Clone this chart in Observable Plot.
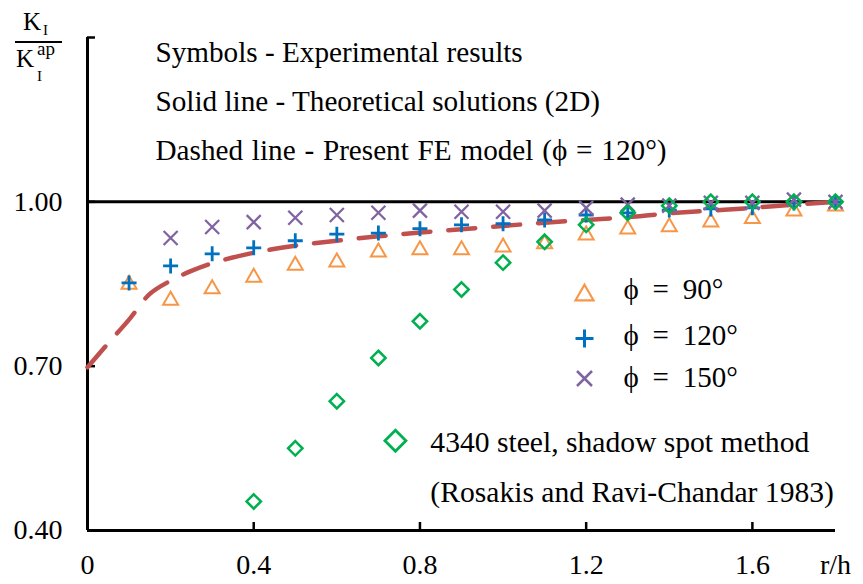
<!DOCTYPE html>
<html><head><meta charset="utf-8">
<script src="https://cdn.jsdelivr.net/npm/d3@7"></script>
<script src="https://cdn.jsdelivr.net/npm/@observablehq/plot@0.6"></script>
<style>body{margin:0;background:#fff} #chart{width:863px;height:584px}</style>
</head><body><div id="chart"></div>
<script>
// ---- data ----
const rh = [0.1,0.2,0.3,0.4,0.5,0.6,0.7,0.8,0.9,1.0,1.1,1.2,1.3,1.4,1.5,1.6,1.7,1.8];
const phi90 = [0.853,0.824,0.845,0.866,0.888,0.894,0.912,0.916,0.916,0.921,0.927,0.943,0.954,0.958,0.967,0.973,0.987,0.996];
const phi120 = [0.852,0.883,0.905,0.916,0.929,0.941,0.943,0.951,0.958,0.960,0.967,0.976,0.980,0.985,0.987,0.989,0.998,1.000];
const rh150 = [0.2,0.3,0.4,0.5,0.6,0.7,0.8,0.9,1.0,1.1,1.2,1.3,1.4,1.5,1.6,1.7,1.8];
const phi150 = [0.934,0.954,0.963,0.971,0.976,0.980,0.984,0.982,0.982,0.984,0.989,0.995,0.993,0.998,0.998,1.004,1.000];
const rhSteel = [0.4,0.5,0.6,0.7,0.8,0.9,1.0,1.1,1.2,1.3,1.4,1.5,1.6,1.7,1.8];
const steel = [0.453,0.550,0.636,0.715,0.782,0.840,0.889,0.927,0.958,0.980,0.993,1.000,1.000,1.000,1.000];
const rhFE = [0,0.05,0.1,0.15,0.2,0.25,0.3,0.4,0.5,0.6,0.7,0.8,0.9,1.0,1.1,1.2,1.3,1.4,1.5,1.6,1.7,1.8];
const feModel = [0.698,0.742,0.785,0.832,0.856,0.874,0.888,0.907,0.920,0.929,0.937,0.944,0.950,0.956,0.962,0.967,0.972,0.979,0.984,0.989,0.995,1.000];
const theory = [1.0];
const xTicks = [0,0.4,0.8,1.2,1.6,1.8];
const yTicks = [0.4,0.7,1.0,1.3];
const yLabels = [0.4,0.7,1.0];
const notes = ["Symbols - Experimental results","Solid line - Theoretical solutions (2D)","Dashed line - Present FE model (\u03D5 = 120\u00B0)"];
const legendLabels = ["\u03D5 = 90\u00B0","\u03D5 = 120\u00B0","\u03D5 = 150\u00B0"];
const steelLabel = ["4340 steel, shadow spot method","(Rosakis and Ravi-Chandar 1983)"];

// ---- layout ----
const W=863,H=584,mL=87,mR=28,mT=37,mB=54;
const frameW=W-mL-mR, frameH=H-mT-mB;
const serif="'Liberation Serif','Times New Roman',serif";
const C90="#F79646", C120="#0070C0", C150="#8064A2", CST="#00B050", CFE="#C0504D";

// custom marker shapes (r = half width)
const triSym={draw(c,s){const r=Math.sqrt(s/Math.PI),h=r*Math.sqrt(3);c.moveTo(0,-h/2);c.lineTo(r,h/2);c.lineTo(-r,h/2);c.closePath();}};
const plusSym={draw(c,s){const r=Math.sqrt(s/Math.PI);c.moveTo(-r,0);c.lineTo(r,0);c.moveTo(0,-r);c.lineTo(0,r);}};
const timesSym={draw(c,s){const r=Math.sqrt(s/Math.PI);c.moveTo(-r,-r);c.lineTo(r,r);c.moveTo(-r,r);c.lineTo(r,-r);}};
const diaSym={draw(c,s){const r=Math.sqrt(s/Math.PI);c.moveTo(0,-r);c.lineTo(r,0);c.lineTo(0,r);c.lineTo(-r,0);c.closePath();}};

const chart = Plot.plot({
  width:W,height:H,marginLeft:mL,marginRight:mR,marginTop:mT,marginBottom:mB,
  style:{fontFamily:serif,fontSize:"28px",background:"white",color:"black"},
  x:{domain:[0,1.8]},
  y:{domain:[0.4,1.3]},
  marks:[
    Plot.axisX({ticks:xTicks,tickSize:0,tickPadding:24,fontSize:28,label:null,
      tickFormat:d=>d===1.8?"r/h":d3.format("~g")(d)}),
    Plot.axisY({ticks:yLabels,tickSize:0,tickPadding:25,fontSize:28,label:null,tickFormat:d3.format(".2f")}),
    Plot.tickX(xTicks.filter(d=>d>0&&d<1.8),{x:d=>d,insetTop:frameH-8,stroke:"black",strokeWidth:2.5}),
    Plot.tickY(yTicks,{y:d=>d,insetRight:frameW-8,stroke:"black",strokeWidth:2.5}),
    Plot.ruleX([0],{stroke:"black",strokeWidth:3}),
    Plot.ruleY([0.4],{stroke:"black",strokeWidth:3}),
    Plot.ruleY(theory,{stroke:"black",strokeWidth:3}),
    Plot.line(feModel,{x:rhFE,y:feModel,stroke:CFE,strokeWidth:4.5,strokeDasharray:"27,18",strokeLinecap:"round",curve:"catmull-rom"}),
    Plot.dot(phi90,{x:rh,y:phi90,symbol:triSym,r:7.5,stroke:C90,strokeWidth:2,fill:"none"}),
    Plot.dot(phi120,{x:rh,y:phi120,symbol:plusSym,r:7.5,stroke:C120,strokeWidth:2.8,fill:"none"}),
    Plot.dot(phi150,{x:rh150,y:phi150,symbol:timesSym,r:7,stroke:C150,strokeWidth:2.3,fill:"none"}),
    Plot.dot(steel,{x:rhSteel,y:steel,symbol:diaSym,r:7.2,stroke:CST,strokeWidth:2.5,fill:"none"}),
    // notes
    Plot.text(notes,{x:()=>0.1636,y:(d,i)=>1.2726-i*0.0895,text:d=>d,textAnchor:"start",fontSize:29.2,fill:"black"}),
    // legend
    Plot.dot([0],{x:()=>1.196,y:()=>0.8345,symbol:triSym,r:9,stroke:C90,strokeWidth:2.2,fill:"none"}),
    Plot.dot([0],{x:()=>1.196,y:()=>0.7505,symbol:plusSym,r:9,stroke:C120,strokeWidth:3,fill:"none"}),
    Plot.dot([0],{x:()=>1.196,y:()=>0.6775,symbol:timesSym,r:7.5,stroke:C150,strokeWidth:2.5,fill:"none"}),
    Plot.text(legendLabels,{x:()=>1.29,y:(d,i)=>[0.840,0.756,0.679][i],text:d=>d,textAnchor:"start",fontSize:29,fill:"black"}),
    Plot.dot([0],{x:()=>0.741,y:()=>0.564,symbol:diaSym,r:10.5,stroke:CST,strokeWidth:2.8,fill:"none"}),
    Plot.text(steelLabel,{x:()=>0.825,y:(d,i)=>[0.5615,0.4694][i],text:d=>d,textAnchor:"start",fontSize:29.6,fill:"black"})
  ]
});
document.getElementById("chart").append(chart);

const svg=d3.select(chart);
// wider math spacing in the legend entries (as in the equation font)
svg.selectAll("text").filter(function(){return legendLabels.includes(this.textContent);}).attr("word-spacing","6.5px");
svg.selectAll("text").filter(function(){return this.textContent===notes[2];}).attr("word-spacing","1.5px");

// y-axis label: K_I / K_I^ap
const lab=svg.append("g").attr("font-family",serif).attr("fill","black").attr("text-anchor","start");
lab.append("text").attr("x",23).attr("y",30).attr("font-size",25).text("K");
lab.append("text").attr("x",43).attr("y",35).attr("font-size",15).text("I");
lab.append("line").attr("x1",15).attr("x2",62).attr("y1",42).attr("y2",42).attr("stroke","black").attr("stroke-width",2);
lab.append("text").attr("x",16).attr("y",67).attr("font-size",25).text("K");
lab.append("text").attr("x",37).attr("y",55).attr("font-size",19).text("ap");
lab.append("text").attr("x",37).attr("y",81).attr("font-size",15).text("I");
</script></body></html>
